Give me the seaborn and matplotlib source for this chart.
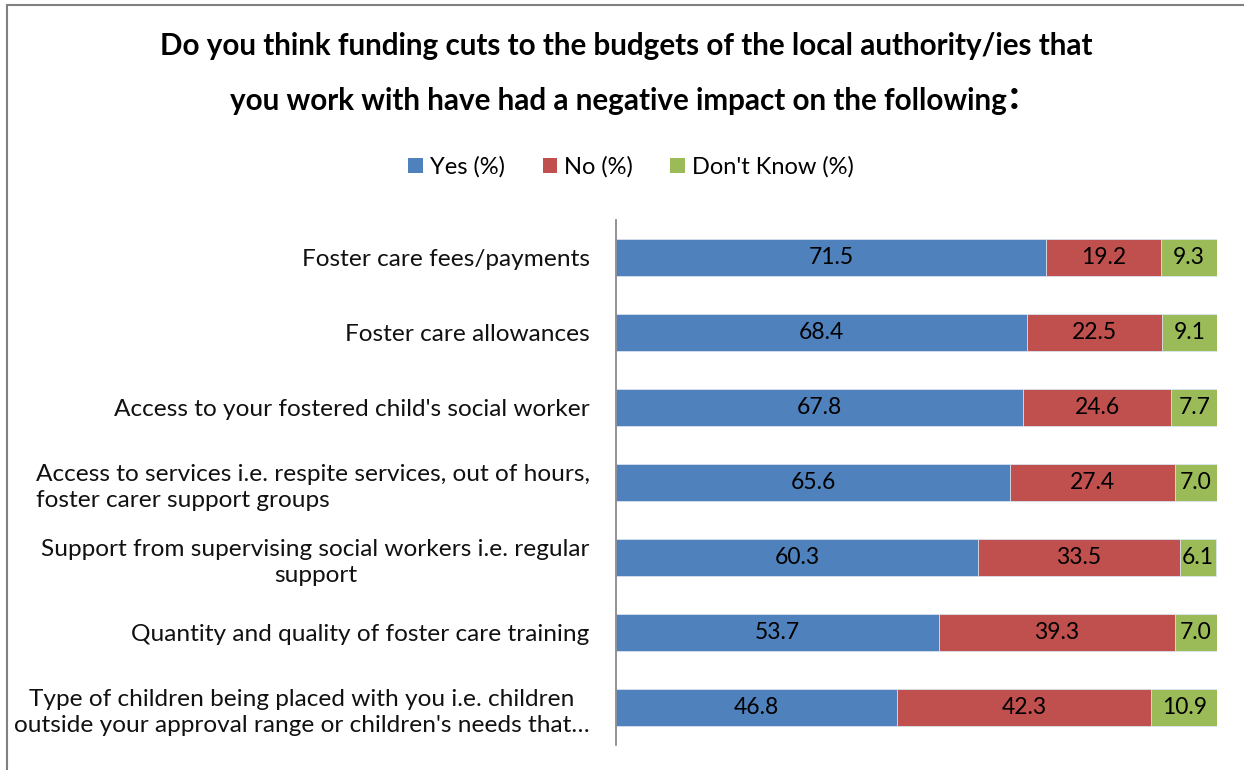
import matplotlib
matplotlib.use("Agg")
import matplotlib.pyplot as plt
import seaborn as sns
import pandas as pd
import numpy as np
from matplotlib.patches import Rectangle, Patch

categories = [
    "Foster care fees/payments",
    "Foster care allowances",
    "Access to your fostered child's social worker",
    "Access to services i.e. respite services, out of hours,\nfoster carer support groups",
    "Support from supervising social workers i.e. regular\nsupport",
    "Quantity and quality of foster care training",
    "Type of children being placed with you i.e. children\noutside your approval range or children's needs that…",
]
yes_vals = [71.5, 68.4, 67.8, 65.6, 60.3, 53.7, 46.8]
no_vals = [19.2, 22.5, 24.6, 27.4, 33.5, 39.3, 42.3]
dk_vals = [9.3, 9.1, 7.7, 7.0, 6.1, 7.0, 10.9]
series_names = ["Yes (%)", "No (%)", "Don't Know (%)"]
colors = ["#4F81BD", "#C0504D", "#9BBB59"]
title_line1 = "Do you think funding cuts to the budgets of the local authority/ies that"
title_line2 = "you work with have had a negative impact on the following"

sns.set_theme(style="white")
FONT = ["Lato", "DejaVu Sans"]
plt.rcParams["font.family"] = FONT
plt.rcParams["text.color"] = "black"

df = pd.DataFrame({"cat": categories, "yes": yes_vals, "no": no_vals, "dk": dk_vals})
df["c_yes"] = df["yes"]
df["c_no"] = df["yes"] + df["no"]
df["c_dk"] = df["yes"] + df["no"] + df["dk"]

fig = plt.figure(figsize=(12.44, 7.70), dpi=100)
W, H = 1244, 770
ax = fig.add_axes([616 / W, 1 - 745 / H, (1217 - 616) / W, (745 - 220) / H])

for col, c in [("c_dk", colors[2]), ("c_no", colors[1]), ("c_yes", colors[0])]:
    sns.barplot(data=df, x=col, y="cat", orient="h", color=c, width=0.5,
                edgecolor="#DCE6F2", linewidth=0.6, saturation=1, ax=ax)

# value labels
for i, row in df.iterrows():
    segs = [(0, row["yes"]), (row["c_yes"], row["no"]), (row["c_no"], row["dk"])]
    for left, w in segs:
        ax.text(left + w / 2, i, f"{w:.1f}", ha="center", va="center",
                fontsize=16.5, color="black")

ax.set_xlim(0, sum([yes_vals[0], no_vals[0], dk_vals[0]]))
ax.set_ylim(6.5, -0.5)
ax.set_xlabel("")
ax.set_ylabel("")
ax.set_xticks([])
for s in ["top", "right", "bottom"]:
    ax.spines[s].set_visible(False)
ax.spines["left"].set_color("#808080")
ax.spines["left"].set_linewidth(1.2)
ax.tick_params(axis="y", length=0, pad=19)
ax.set_yticks(range(len(categories)))
ax.set_yticklabels(categories, fontsize=17.6)
for k, lbl in enumerate(ax.get_yticklabels()):
    lbl.set_multialignment("left" if k == 3 else "center")
    lbl.set_linespacing(1.3)
    lbl.set_color("#111111")

# title
fig.text(626 / W, 1 - 46 / H, title_line1, ha="center", va="center",
         fontsize=21.3, fontweight="bold", color="black")
t2 = fig.text(618 / W, 1 - 101 / H, title_line2, ha="center", va="center",
              fontsize=21.3, fontweight="bold", color="black")
fig.canvas.draw()
bb = t2.get_window_extent(renderer=fig.canvas.get_renderer())
fig.text((bb.x1 + 2) / W, 1 - 97 / H, ":", ha="left", va="center",
         fontsize=30, fontweight="bold", color="black")

# legend
handles = [Patch(facecolor=c, edgecolor="none") for c in colors]
fig.legend(handles, series_names, loc="center", bbox_to_anchor=(631 / W, 1 - 167 / H),
           ncol=3, frameon=False, fontsize=17, handlelength=0.6, handleheight=0.6,
           handletextpad=0.3, columnspacing=1.6)

# outer border
fig.add_artist(Rectangle((6.5 / W, -0.1), 1.2, 1 - 4.5 / H + 0.1, transform=fig.transFigure,
                         fill=False, edgecolor="#808080", linewidth=1.5))

fig.savefig("out.png", dpi=100, facecolor="white")
